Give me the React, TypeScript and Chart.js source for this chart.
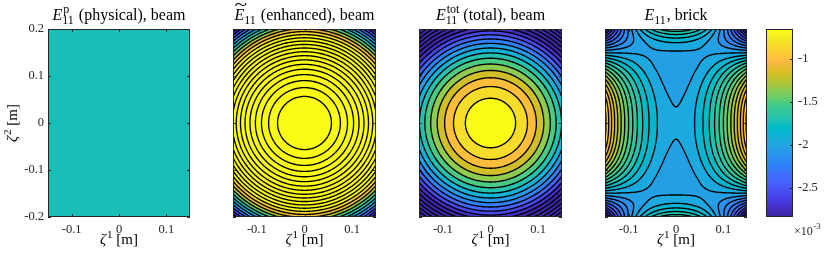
import { useEffect, useRef } from 'react';
import { Chart, registerables } from 'chart.js';

Chart.register(...registerables);

const SERIF = '"Liberation Serif", "Times New Roman", serif';
const INK = '#262626';

// ---------------- data (values in units of 1e-3) ----------------
const xTicks = [-0.1, 0, 0.1];
const yTicks = [-0.2, -0.1, 0, 0.1, 0.2];
const colorbarTicks = [-2.5, -2, -1.5, -1];
const colorLimits = [-2.84, -0.65];

// physical strain, beam: uniform
const physicalValue = [-1.73];

// radial profiles for the beam fields (radius in m)
const profileRadius = [0, 0.05, 0.1, 0.15, 0.2, 0.25];
const enhancedProfile = [2.331, 2.12, 1.486, 0.43, -1.049, -2.95];
const totalProfile = [-0.51, -0.645, -1.05, -1.725, -2.67, -3.885];

// contour levels
const enhancedLevels = [-2.746, -2.537, -2.328, -2.119, -1.91, -1.701, -1.492, -1.283, -1.074, -0.865, -0.656, -0.447, -0.238, -0.029, 0.18, 0.389, 0.598, 0.807, 1.016, 1.225, 1.434, 1.643, 1.852, 2.061];
const totalLevels = [-3.81, -3.635, -3.46, -3.285, -3.11, -2.935, -2.76, -2.585, -2.41, -2.235, -2.06, -1.885, -1.71, -1.535, -1.36, -1.185, -1.01, -0.835, -0.66];
const brickLevels = [-2.787, -2.704, -2.621, -2.538, -2.455, -2.372, -2.289, -2.206, -2.123, -2.04, -1.957, -1.874, -1.791, -1.708, -1.625, -1.542, -1.459, -1.376, -1.293, -1.21, -1.127, -1.044, -0.961, -0.878];

// brick: nodal values on one quadrant (|zeta1|, |zeta2|), mirrored by symmetry
const brickNodeX = [0, 0.0375, 0.075, 0.1125, 0.15];
const brickNodeY = [0, 0.025, 0.05, 0.075, 0.1, 0.125, 0.15, 0.175, 0.2];
const brickQuadrant = [
  [-1.950, -1.881, -1.675, -1.331, -0.850],
  [-1.954, -1.885, -1.681, -1.340, -0.863],
  [-1.964, -1.899, -1.704, -1.380, -0.925],
  [-1.981, -1.923, -1.750, -1.461, -1.057],
  [-1.997, -1.952, -1.817, -1.591, -1.274],
  [-2.002, -1.976, -1.897, -1.765, -1.581],
  [-1.967, -1.967, -1.967, -1.967, -1.966],
  [-1.843, -1.878, -1.981, -2.154, -2.395],
  [-1.550, -1.628, -1.863, -2.253, -2.800],
];

// ---------------- colormap ----------------
const PARULA: number[][] = [
  [0.2422, 0.1504, 0.6603], [0.2504, 0.1650, 0.7076], [0.2578, 0.1818, 0.7511], [0.2647, 0.1978, 0.7952],
  [0.2706, 0.2147, 0.8364], [0.2751, 0.2342, 0.8710], [0.2783, 0.2559, 0.8991], [0.2803, 0.2782, 0.9221],
  [0.2813, 0.3006, 0.9414], [0.2810, 0.3228, 0.9579], [0.2795, 0.3447, 0.9717], [0.2760, 0.3667, 0.9829],
  [0.2699, 0.3892, 0.9906], [0.2602, 0.4123, 0.9952], [0.2440, 0.4358, 0.9988], [0.2206, 0.4603, 0.9973],
  [0.1963, 0.4847, 0.9892], [0.1834, 0.5074, 0.9798], [0.1786, 0.5289, 0.9682], [0.1764, 0.5499, 0.9520],
  [0.1687, 0.5703, 0.9359], [0.1540, 0.5902, 0.9218], [0.1460, 0.6091, 0.9079], [0.1380, 0.6276, 0.8973],
  [0.1248, 0.6459, 0.8883], [0.1113, 0.6635, 0.8763], [0.0952, 0.6798, 0.8598], [0.0689, 0.6948, 0.8394],
  [0.0297, 0.7082, 0.8163], [0.0036, 0.7203, 0.7917], [0.0067, 0.7312, 0.7660], [0.0433, 0.7411, 0.7394],
  [0.0964, 0.7500, 0.7120], [0.1408, 0.7584, 0.6842], [0.1717, 0.7670, 0.6554], [0.1938, 0.7758, 0.6251],
  [0.2161, 0.7843, 0.5923], [0.2470, 0.7918, 0.5567], [0.2906, 0.7973, 0.5188], [0.3406, 0.8008, 0.4789],
  [0.3909, 0.8029, 0.4354], [0.4456, 0.8024, 0.3909], [0.5044, 0.7993, 0.3480], [0.5616, 0.7942, 0.3045],
  [0.6174, 0.7876, 0.2612], [0.6720, 0.7793, 0.2227], [0.7242, 0.7698, 0.1910], [0.7738, 0.7598, 0.1646],
  [0.8203, 0.7498, 0.1535], [0.8634, 0.7406, 0.1596], [0.9035, 0.7330, 0.1774], [0.9393, 0.7288, 0.2100],
  [0.9728, 0.7298, 0.2394], [0.9956, 0.7434, 0.2371], [0.9970, 0.7659, 0.2199], [0.9952, 0.7893, 0.2028],
  [0.9892, 0.8136, 0.1885], [0.9786, 0.8386, 0.1766], [0.9676, 0.8639, 0.1643], [0.9610, 0.8890, 0.1537],
  [0.9597, 0.9135, 0.1423], [0.9628, 0.9373, 0.1265], [0.9691, 0.9606, 0.1064], [0.9769, 0.9839, 0.0805],
].map((c) => c.map((v) => Math.round(v * 255)));

function colorOf(v: number): number[] {
  const [lo, hi] = colorLimits;
  let k = Math.floor(((v - lo) / (hi - lo)) * PARULA.length);
  if (k < 0) k = 0;
  if (k > PARULA.length - 1) k = PARULA.length - 1;
  return PARULA[k];
}

function bandValue(v: number, levels: number[]): number {
  if (!levels.length) return v;
  if (v < levels[0]) return levels[0] - (levels[1] - levels[0]);
  let k = 0;
  while (k < levels.length - 1 && v >= levels[k + 1]) k++;
  return levels[k];
}

// ---------------- fields ----------------
type Field = (x: number, y: number) => number;

function constantField(v: number): Field {
  return () => v;
}

function radialField(r: number[], v: number[]): Field {
  const r2 = r.map((a) => a * a);
  return (x, y) => {
    const q = x * x + y * y;
    let i = 0;
    while (i < r2.length - 2 && q > r2[i + 1]) i++;
    const t = (q - r2[i]) / (r2[i + 1] - r2[i]);
    return v[i] + t * (v[i + 1] - v[i]);
  };
}

function gridField(nodeX: number[], nodeY: number[], quad: number[][]): Field {
  const nx = nodeX.length;
  const ny = nodeY.length;
  const xs = [...nodeX.slice(1).reverse().map((v) => -v), ...nodeX];
  const ys = [...nodeY.slice(1).reverse().map((v) => -v), ...nodeY];
  const grid = ys.map((_, j) => {
    const row = quad[Math.abs(j - (ny - 1))];
    return xs.map((__, i) => row[Math.abs(i - (nx - 1))]);
  });
  const X = xs.length;
  const Y = ys.length;
  const dx = xs[1] - xs[0];
  const dy = ys[1] - ys[0];
  const cr = (p0: number, p1: number, p2: number, p3: number, t: number) =>
    p1 + 0.5 * t * (p2 - p0 + t * (2 * p0 - 5 * p1 + 4 * p2 - p3 + t * (3 * (p1 - p2) + p3 - p0)));
  const pick = (arr: number[], k: number, n: number) => {
    if (k < 0) return 3 * arr[0] - 3 * arr[1] + arr[2];
    if (k >= n) return 3 * arr[n - 1] - 3 * arr[n - 2] + arr[n - 3];
    return arr[k];
  };
  return (x, y) => {
    let i = Math.floor((x - xs[0]) / dx);
    i = Math.max(0, Math.min(X - 2, i));
    const tx = (x - xs[i]) / dx;
    let j = Math.floor((y - ys[0]) / dy);
    j = Math.max(0, Math.min(Y - 2, j));
    const ty = (y - ys[j]) / dy;
    const rowVal = (jj: number) => {
      const row = grid[jj];
      return cr(pick(row, i - 1, X), row[i], row[i + 1], pick(row, i + 2, X), tx);
    };
    const r = (jj: number) =>
      jj < 0
        ? 3 * rowVal(0) - 3 * rowVal(1) + rowVal(2)
        : jj >= Y
        ? 3 * rowVal(Y - 1) - 3 * rowVal(Y - 2) + rowVal(Y - 3)
        : rowVal(jj);
    return cr(r(j - 1), r(j), r(j + 1), r(j + 2), ty);
  };
}

// ---------------- text helpers ----------------
type MathText = { base: string; tilde?: boolean; sup?: string; sub?: string; rest: string };

function drawMath(ctx: CanvasRenderingContext2D, x: number, y: number, m: MathText, size: number) {
  const fBase = `italic ${size}px ${SERIF}`;
  const fScript = `${Math.round(size * 0.72)}px ${SERIF}`;
  const fRest = `${size}px ${SERIF}`;
  ctx.font = fBase;
  const wb = ctx.measureText(m.base).width;
  ctx.font = fScript;
  const wsup = m.sup ? ctx.measureText(m.sup).width : 0;
  const wsub = m.sub ? ctx.measureText(m.sub).width : 0;
  const ws = Math.max(wsup, wsub);
  ctx.font = fRest;
  const wr = ctx.measureText(m.rest).width;
  const gap = ws ? 1 : 0;
  const total = wb + gap + ws + wr;
  const x0 = x - total / 2;
  ctx.fillStyle = '#000';
  ctx.textAlign = 'left';
  ctx.textBaseline = 'alphabetic';
  ctx.font = fBase;
  ctx.fillText(m.base, x0, y);
  if (m.tilde) {
    ctx.save();
    ctx.font = `${size}px ${SERIF}`;
    ctx.textAlign = 'center';
    ctx.translate(x0 + wb / 2 + 1.5, y - size * 0.62);
    ctx.scale(1.45, 1);
    ctx.fillText('~', 0, 0);
    ctx.restore();
  }
  ctx.font = fScript;
  if (m.sup) ctx.fillText(m.sup, x0 + wb + gap, y - size * 0.42);
  if (m.sub) ctx.fillText(m.sub, x0 + wb + gap - 1, y + size * 0.24);
  ctx.font = fRest;
  ctx.fillText(m.rest, x0 + wb + gap + ws, y);
}

// ---------------- panels ----------------
type Panel = {
  left: number;
  right: number;
  field: Field;
  levels: number[];
  title: MathText;
  yAxis: boolean;
};

const TOP = 29;
const BOTTOM = 217;
const W = 830;
const H = 260;
const YAXIS_W = 40;
const XAXIS_H = 40;

const panels: Panel[] = [
  { left: 48, right: 190, field: constantField(physicalValue[0]), levels: [], title: { base: 'E', sup: 'p', sub: '11', rest: ' (physical), beam' }, yAxis: true },
  { left: 233, right: 376, field: radialField(profileRadius, enhancedProfile), levels: enhancedLevels, title: { base: 'E', tilde: true, sub: '11', rest: ' (enhanced), beam' }, yAxis: false },
  { left: 419, right: 562, field: radialField(profileRadius, totalProfile), levels: totalLevels, title: { base: 'E', sup: 'tot', sub: '11', rest: ' (total), beam' }, yAxis: false },
  { left: 605, right: 747, field: gridField(brickNodeX, brickNodeY, brickQuadrant), levels: brickLevels, title: { base: 'E', sub: '11', rest: ', brick' }, yAxis: false },
];

function traceContours(ctx: CanvasRenderingContext2D, vals: Float64Array, w: number, h: number, L: number, T: number, levels: number[]) {
  ctx.beginPath();
  for (const lev of levels) {
    for (let j = 0; j < h - 1; j++) {
      for (let i = 0; i < w - 1; i++) {
        const a = vals[j * w + i];
        const b = vals[j * w + i + 1];
        const c = vals[(j + 1) * w + i + 1];
        const d = vals[(j + 1) * w + i];
        const code = (a >= lev ? 8 : 0) | (b >= lev ? 4 : 0) | (c >= lev ? 2 : 0) | (d >= lev ? 1 : 0);
        if (code === 0 || code === 15) continue;
        const ox = L + i + 0.5;
        const oy = T + j + 0.5;
        const top = () => [ox + (lev - a) / (b - a), oy];
        const right = () => [ox + 1, oy + (lev - b) / (c - b)];
        const bottom = () => [ox + (lev - d) / (c - d), oy + 1];
        const left = () => [ox, oy + (lev - a) / (d - a)];
        const seg = (p: number[], q: number[]) => {
          ctx.moveTo(p[0], p[1]);
          ctx.lineTo(q[0], q[1]);
        };
        switch (code) {
          case 1: case 14: seg(left(), bottom()); break;
          case 2: case 13: seg(bottom(), right()); break;
          case 3: case 12: seg(left(), right()); break;
          case 4: case 11: seg(top(), right()); break;
          case 6: case 9: seg(top(), bottom()); break;
          case 7: case 8: seg(left(), top()); break;
          case 5: seg(top(), right()); seg(left(), bottom()); break;
          case 10: seg(left(), top()); seg(bottom(), right()); break;
        }
      }
    }
  }
  ctx.strokeStyle = '#000';
  ctx.lineWidth = 1.35;
  ctx.lineCap = 'round';
  ctx.lineJoin = 'round';
  ctx.stroke();
}

function panelPlugin(p: Panel) {
  let cache: { L: number; T: number; w: number; h: number; vals: Float64Array } | null = null;
  return {
    id: 'contourPanel',
    beforeDraw(chart: any) {
      const { ctx, chartArea: a, scales } = chart;
      const sx = scales.x;
      const sy = scales.y;
      const L = Math.round(a.left);
      const T = Math.round(a.top);
      const w = Math.round(a.right) - L;
      const h = Math.round(a.bottom) - T;
      const vals = new Float64Array(w * h);
      const img = new ImageData(w, h);
      for (let j = 0; j < h; j++) {
        const yv = sy.getValueForPixel(T + j + 0.5);
        for (let i = 0; i < w; i++) {
          const xv = sx.getValueForPixel(L + i + 0.5);
          const v = p.field(xv, yv);
          vals[j * w + i] = v;
          const col = colorOf(bandValue(v, p.levels));
          const o = (j * w + i) * 4;
          img.data[o] = col[0];
          img.data[o + 1] = col[1];
          img.data[o + 2] = col[2];
          img.data[o + 3] = 255;
        }
      }
      const off = document.createElement('canvas');
      off.width = w;
      off.height = h;
      (off.getContext('2d') as CanvasRenderingContext2D).putImageData(img, 0, 0);
      ctx.drawImage(off, L, T);
      cache = { L, T, w, h, vals };
    },
    afterDraw(chart: any) {
      const { ctx, chartArea: a, scales } = chart;
      const sx = scales.x;
      const sy = scales.y;
      if (cache && p.levels.length) {
        ctx.save();
        ctx.beginPath();
        ctx.rect(a.left, a.top, a.right - a.left, a.bottom - a.top);
        ctx.clip();
        traceContours(ctx, cache.vals, cache.w, cache.h, cache.L, cache.T, p.levels);
        ctx.restore();
      }
      ctx.save();
      ctx.strokeStyle = INK;
      ctx.lineWidth = 1;
      ctx.strokeRect(a.left + 0.5, a.top + 0.5, a.right - a.left - 1, a.bottom - a.top - 1);
      ctx.beginPath();
      for (const v of xTicks) {
        const px = Math.round(sx.getPixelForValue(v)) + 0.5;
        ctx.moveTo(px, a.bottom);
        ctx.lineTo(px, a.bottom - 3);
        ctx.moveTo(px, a.top);
        ctx.lineTo(px, a.top + 3);
      }
      for (const v of yTicks) {
        const py = Math.round(sy.getPixelForValue(v)) + 0.5;
        ctx.moveTo(a.left, py);
        ctx.lineTo(a.left + 3, py);
        ctx.moveTo(a.right, py);
        ctx.lineTo(a.right - 3, py);
      }
      ctx.stroke();
      const cx = (a.left + a.right) / 2;
      drawMath(ctx, cx, 20, p.title, 16);
      drawMath(ctx, cx, 244, { base: '\u03B6', sup: '1', rest: ' [m]' }, 15);
      if (p.yAxis) {
        ctx.translate(17, (a.top + a.bottom) / 2);
        ctx.rotate(-Math.PI / 2);
        drawMath(ctx, 0, 0, { base: '\u03B6', sup: '2', rest: ' [m]' }, 15);
      }
      ctx.restore();
    },
  };
}

const tickFont = { family: SERIF, size: 12.5 };
const fmt = (v: any) => String(Math.round(Number(v) * 100) / 100);

function panelConfig(p: Panel): any {
  return {
    type: 'scatter',
    data: { datasets: [] },
    options: {
      responsive: false,
      animation: false,
      events: [],
      layout: { padding: { left: p.yAxis ? p.left - YAXIS_W : p.left, right: W - p.right, top: TOP, bottom: H - BOTTOM - XAXIS_H } },
      plugins: { legend: { display: false }, tooltip: { enabled: false }, title: { display: false } },
      scales: {
        x: {
          type: 'linear',
          min: -0.15,
          max: 0.15,
          afterBuildTicks: (s: any) => { s.ticks = xTicks.map((value) => ({ value })); },
          afterFit: (s: any) => { s.height = XAXIS_H; },
          grid: { display: false, drawTicks: false },
          border: { display: false },
          ticks: { font: tickFont, color: INK, padding: 5, maxRotation: 0, autoSkip: false, callback: fmt },
        },
        y: {
          type: 'linear',
          display: p.yAxis,
          min: -0.2,
          max: 0.2,
          afterBuildTicks: (s: any) => { s.ticks = yTicks.map((value) => ({ value })); },
          afterFit: (s: any) => { s.width = p.yAxis ? YAXIS_W : 0; },
          grid: { display: false, drawTicks: false },
          border: { display: false },
          ticks: { font: tickFont, color: INK, padding: 4, autoSkip: false, callback: fmt },
        },
      },
    },
    plugins: [panelPlugin(p)],
  };
}

const CB_LEFT = 766;
const CB_RIGHT = 793;

const colorbarPlugin = {
  id: 'colorbarFill',
  beforeDraw(chart: any) {
    const { ctx, chartArea: a, scales } = chart;
    const sy = scales.y;
    for (let py = Math.round(a.top); py < Math.round(a.bottom); py++) {
      const c = colorOf(sy.getValueForPixel(py + 0.5));
      ctx.fillStyle = `rgb(${c[0]},${c[1]},${c[2]})`;
      ctx.fillRect(a.left, py, a.right - a.left, 1);
    }
  },
  afterDraw(chart: any) {
    const { ctx, chartArea: a, scales } = chart;
    const sy = scales.y;
    ctx.save();
    ctx.strokeStyle = INK;
    ctx.lineWidth = 1;
    ctx.strokeRect(a.left + 0.5, a.top + 0.5, a.right - a.left - 1, a.bottom - a.top - 1);
    ctx.beginPath();
    for (const v of colorbarTicks) {
      const py = Math.round(sy.getPixelForValue(v)) + 0.5;
      ctx.moveTo(a.right, py);
      ctx.lineTo(a.right - 3, py);
    }
    ctx.stroke();
    ctx.fillStyle = INK;
    ctx.textAlign = 'left';
    ctx.textBaseline = 'alphabetic';
    ctx.font = `12px ${SERIF}`;
    const x0 = 794;
    ctx.fillText('\u00D710', x0, 235);
    const w = ctx.measureText('\u00D710').width;
    ctx.font = `9px ${SERIF}`;
    ctx.fillText('-3', x0 + w + 0.5, 229);
    ctx.restore();
  },
};

function colorbarConfig(): any {
  return {
    type: 'scatter',
    data: { datasets: [] },
    options: {
      responsive: false,
      animation: false,
      events: [],
      layout: { padding: { left: CB_LEFT, right: W - CB_RIGHT - 30, top: TOP, bottom: H - BOTTOM } },
      plugins: { legend: { display: false }, tooltip: { enabled: false }, title: { display: false } },
      scales: {
        x: { type: 'linear', display: false, min: 0, max: 1, afterFit: (s: any) => { s.height = 0; } },
        y: {
          type: 'linear',
          position: 'right',
          min: colorLimits[0],
          max: colorLimits[1],
          afterBuildTicks: (s: any) => { s.ticks = colorbarTicks.map((value) => ({ value })); },
          afterFit: (s: any) => { s.width = 30; },
          grid: { display: false, drawTicks: false },
          border: { display: false },
          ticks: { font: tickFont, color: INK, padding: 5, autoSkip: false, callback: fmt },
        },
      },
    },
    plugins: [colorbarPlugin],
  };
}

function ChartCanvas({ make }: { make: () => any }) {
  const ref = useRef<HTMLCanvasElement>(null);
  useEffect(() => {
    const chart = new Chart(ref.current as HTMLCanvasElement, make());
    return () => chart.destroy();
  }, []);
  return <canvas ref={ref} width={W} height={H} style={{ position: 'absolute', left: 0, top: 0 }} />;
}

export default function App() {
  return (
    <div style={{ position: 'absolute', left: 0, top: 0, width: W, height: H, background: '#fff' }}>
      {panels.map((p, i) => (
        <ChartCanvas key={i} make={() => panelConfig(p)} />
      ))}
      <ChartCanvas make={colorbarConfig} />
    </div>
  );
}
